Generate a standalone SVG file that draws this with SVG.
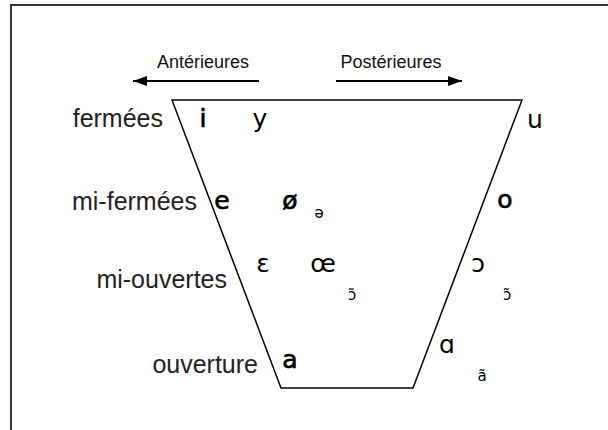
<svg xmlns="http://www.w3.org/2000/svg" width="608" height="430" viewBox="0 0 608 430">
<style>
.lbl{font-family:"Liberation Sans","DejaVu Sans",sans-serif;font-size:25px;fill:#222;text-anchor:end}
.hdr{font-family:"Liberation Sans","DejaVu Sans",sans-serif;font-size:18px;fill:#111;text-anchor:middle}
.v{font-family:"DejaVu Sans","Liberation Sans",sans-serif;font-size:25px;fill:#000;text-anchor:middle}
.vb{stroke:#000;stroke-width:0.7}
.s{font-family:"DejaVu Sans","Liberation Sans",sans-serif;font-size:15px;fill:#000;text-anchor:middle}
.ln{stroke:#000;stroke-width:1.5;fill:none}
.ar{stroke:#000;stroke-width:2;fill:none}
</style>
<defs>
<marker id="ah" viewBox="0 0 14 10" refX="14" refY="5" markerWidth="14" markerHeight="10" markerUnits="userSpaceOnUse" orient="auto">
<path d="M0,0 L14,5 L0,10 Z" fill="#000"/>
</marker>
</defs>
<rect x="0" y="0" width="608" height="430" fill="#fff"/>
<rect x="11" y="5" width="620" height="460" fill="none" stroke="#333" stroke-width="2"/>
<g id="connectors">
<line class="ar" x1="259" y1="81" x2="133" y2="81" marker-end="url(#ah)"/>
<line class="ar" x1="336" y1="81" x2="462" y2="81" marker-end="url(#ah)"/>
</g>
<g id="trapeze">
<polygon class="ln" points="172,100 522,100 413,388 281,388"/>
</g>
<g id="anterieures"><text class="hdr" x="203" y="68">Antérieures</text></g>
<g id="posterieures"><text class="hdr" x="391" y="68">Postérieures</text></g>
<g id="fermees"><text class="lbl" x="163" y="127">fermées</text></g>
<g id="mi-fermees"><text class="lbl" x="197" y="210">mi-fermées</text></g>
<g id="mi-ouvertes"><text class="lbl" x="227" y="288">mi-ouvertes</text></g>
<g id="ouverture"><text class="lbl" x="258" y="373">ouverture</text></g>
<g id="v-i"><text class="v vb" x="203" y="127">i</text></g>
<g id="v-y"><text class="v" x="260" y="127">y</text></g>
<g id="v-u"><text class="v" x="535" y="128">u</text></g>
<g id="v-e"><text class="v vb" x="222" y="209">e</text></g>
<g id="v-oe-slash"><text class="v vb" x="290" y="209">ø</text></g>
<g id="v-schwa"><text class="s" x="319" y="218">ə</text></g>
<g id="v-o"><text class="v vb" x="505" y="208">o</text></g>
<g id="v-epsilon"><text class="v" x="263" y="272">ɛ</text></g>
<g id="v-oe"><text class="v" x="323" y="272">œ</text></g>
<g id="v-on1"><text class="s" x="352" y="300">ɔ̃</text></g>
<g id="v-open-o"><text class="v" x="478" y="272">ɔ</text></g>
<g id="v-on2"><text class="s" x="507" y="300">ɔ̃</text></g>
<g id="v-a"><text class="v vb" x="290" y="368">a</text></g>
<g id="v-alpha"><text class="v" x="447" y="353">ɑ</text></g>
<g id="v-an"><text class="s" x="482" y="381">ã</text></g>
</svg>
